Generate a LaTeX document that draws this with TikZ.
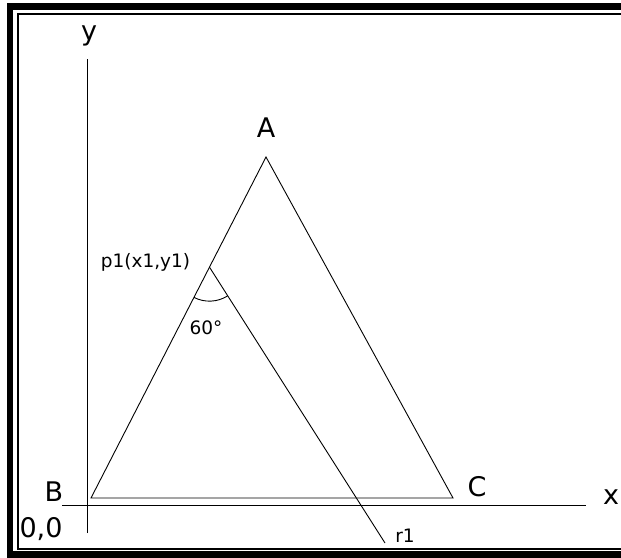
\documentclass[tikz,border=0pt]{standalone}
\usepackage{fontspec}
\setmainfont{DejaVu Sans}
\usepackage{tikz}
\usetikzlibrary{angles, calc}

\begin{document}
\begin{tikzpicture}[x=1pt, y=-1pt, line width=0.9pt,
    biglabel/.style={font=\fontsize{27}{27}\selectfont, inner sep=0pt},
    smalllabel/.style={font=\fontsize{18.5}{18.5}\selectfont, inner sep=0pt}]
    \useasboundingbox (0,0) rectangle (621,557);
    % frame, cut off on the right
    \draw[line width=6.5pt] (621,6.5) -- (10,6.5) -- (10,554.5) -- (621,554.5);
    \draw[line width=1.5pt] (621,14) -- (18,14) -- (18,549) -- (621,549);
    % axes
    \coordinate (ytop) at (87,59);
    \coordinate (ybot) at (87,533);
    \coordinate (xleft) at (62,505);
    \coordinate (xright) at (586,505);
    \draw (ybot) -- (ytop);
    \draw (xleft) -- (xright);
    \node[biglabel] (ylab) at (89,36) {y};
    \node[biglabel] (xlab) at (611,497) {x};
    \node[biglabel] (origin) at (41,529) {0,0};
    % triangle
    \coordinate (A) at (266,157);
    \coordinate (B) at (91,498);
    \coordinate (C) at (453,498);
    \draw (A) -- (B) -- (C) -- cycle;
    \node[biglabel] (Alab) at (266,128) {A};
    \node[biglabel] (Blab) at (54,492) {B};
    \node[biglabel] (Clab) at (477,487) {C};
    % line r1 through p1
    \coordinate (p1) at ($(B)!0.677!(A)$);
    \coordinate (r1end) at (385,543);
    \draw (p1) -- (r1end);
    \pic[draw, angle radius=34pt] {angle=B--p1--r1end};
    \node[smalllabel] (p1lab) at (145.5,262) {p1(x1,y1)};
    \node[smalllabel] (anglab) at (206,328) {60°};
    \node[smalllabel] (r1lab) at (405,536) {r1};
\end{tikzpicture}
\end{document}
